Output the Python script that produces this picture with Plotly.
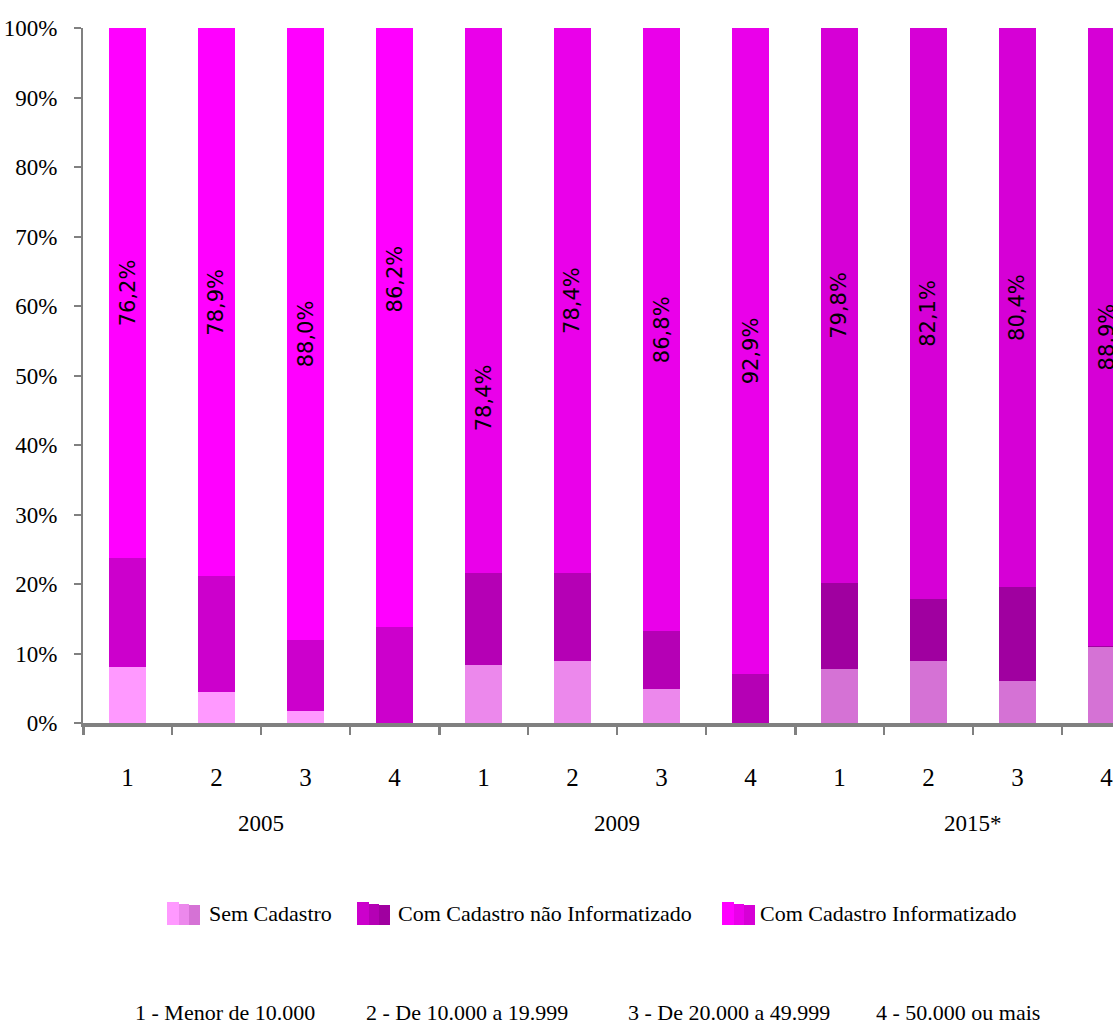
import plotly.graph_objects as go

# ---------------- data ----------------
years = ["2005", "2009", "2015*"]
size_labels = ["1", "2", "3", "4"]
series_names = ["Sem Cadastro", "Com Cadastro não Informatizado", "Com Cadastro Informatizado"]

sem_cadastro = [8.0, 4.5, 1.7, 0.0, 8.3, 8.9, 4.9, 0.0, 7.8, 8.9, 6.0, 11.0]
nao_informatizado = [15.8, 16.6, 10.3, 13.8, 13.3, 12.7, 8.3, 7.1, 12.4, 9.0, 13.6, 0.1]
informatizado = [76.2, 78.9, 88.0, 86.2, 78.4, 78.4, 86.8, 92.9, 79.8, 82.1, 80.4, 88.9]

y_ticks = list(range(0, 101, 10))
y_tick_text = [f"{v}%" for v in y_ticks]

footnotes = ["1 - Menor de 10.000", "2 - De 10.000 a 19.999",
             "3 - De 20.000 a 49.999", "4 - 50.000 ou mais"]

# ---------------- styles ----------------
colors_by_year = {
    "Sem Cadastro": ["#FF99FF", "#EC88EC", "#D572D5"],
    "Com Cadastro não Informatizado": ["#CC00CC", "#B500B5", "#A000A0"],
    "Com Cadastro Informatizado": ["#FF00FF", "#EA00EA", "#D600D6"],
}
label_shift = [0, 0, 0, 7, -14, 0, 0, 0, 0, 0, 0, 0]  # manual label nudges (pp)

n_groups = len(years)
n_per = len(size_labels)
xpos = list(range(n_groups * n_per))
tick_text = size_labels * n_groups

# plot area in pixels
W, H = 1113, 1031
L, R_EDGE, T, B = 83, 1113, 28, 723
step = 89.0
x_range = [-0.5, -0.5 + (R_EDGE - L) / step]


def px_x(p):
    return (p - L) / (R_EDGE - L)


def px_y(p):
    return (B - p) / (B - T)


fig = go.Figure()
values = [sem_cadastro, nao_informatizado, informatizado]
for name, vals in zip(series_names, values):
    cols = [colors_by_year[name][i // n_per] for i in xpos]
    fig.add_trace(go.Bar(
        x=xpos, y=vals, name=name, width=0.42,
        marker=dict(color=cols, line=dict(width=0)),
        showlegend=False, hoverinfo="skip",
    ))

# invisible trace for boundary-tick axis
fig.add_trace(go.Scatter(x=[x_range[0]], y=[0], xaxis="x2", mode="markers",
                         marker=dict(opacity=0), showlegend=False, hoverinfo="skip"))

annotations = []
# data labels on informatizado segments
for i in xpos:
    base = sem_cadastro[i] + nao_informatizado[i]
    v = informatizado[i]
    annotations.append(dict(
        x=i, y=base + v / 2 + label_shift[i], xref="x", yref="y",
        text=f"{v:.1f}%".replace(".", ","), showarrow=False, textangle=-90,
        font=dict(family="DejaVu Sans", size=21, color="#000000"),
        xanchor="center", yanchor="middle",
    ))

# group labels
for g, yr in enumerate(years):
    annotations.append(dict(
        x=g * n_per + (n_per - 1) / 2, y=0, xref="x", yref="paper",
        yshift=-(823 - B), text=yr, showarrow=False,
        font=dict(family="Liberation Serif", size=23, color="#000000"),
        xanchor="center", yanchor="middle",
    ))

# custom legend
shapes = []
legend_icon_x = [167, 357, 722]
legend_text_x = [207, 396, 758]
strip_offsets = [(0, 12), (12, 22), (22, 33)]
strip_tops = [902, 904, 905]
for k, name in enumerate(series_names):
    for j, (a, b) in enumerate(strip_offsets):
        shapes.append(dict(
            type="rect", xref="paper", yref="paper",
            x0=px_x(legend_icon_x[k] + a), x1=px_x(legend_icon_x[k] + b),
            y0=px_y(925), y1=px_y(strip_tops[j]),
            fillcolor=colors_by_year[name][j], line=dict(width=0),
        ))
    annotations.append(dict(
        x=px_x(legend_text_x[k]), y=px_y(913), xref="paper", yref="paper",
        text=name, showarrow=False, xanchor="left", yanchor="middle",
        font=dict(family="Liberation Serif", size=22, color="#000000"),
    ))

# footnotes
foot_x = [225, 467, 729, 958]
for fx, txt in zip(foot_x, footnotes):
    annotations.append(dict(
        x=px_x(fx), y=px_y(1012), xref="paper", yref="paper",
        text=txt, showarrow=False, xanchor="center", yanchor="middle",
        font=dict(family="Liberation Serif", size=22, color="#000000"),
    ))

boundaries = [i - 0.5 for i in range(n_groups * n_per + 1)]
group_bounds = [g * n_per - 0.5 for g in range(n_groups + 1)]

fig.update_layout(
    width=W, height=H,
    margin=dict(l=L, r=W - R_EDGE, t=T, b=H - B),
    paper_bgcolor="white", plot_bgcolor="white",
    barmode="stack", bargap=0.58,
    showlegend=False,
    annotations=annotations, shapes=shapes,
    xaxis=dict(
        range=x_range, tickmode="array", tickvals=xpos, ticktext=tick_text,
        ticks="", showgrid=False, zeroline=False,
        showline=True, linecolor="#808080", linewidth=4,
        ticklabelstandoff=29, ticklabeloverflow="allow",
        tickfont=dict(family="Liberation Serif", size=25, color="#000000"),
    ),
    xaxis2=dict(
        range=x_range, overlaying="x", anchor="y", side="bottom",
        tickmode="array", tickvals=group_bounds, ticks="outside",
        ticklen=11, tickwidth=3, tickcolor="#808080",
        minor=dict(tickmode="array", tickvals=boundaries, ticks="outside",
                   ticklen=11, tickwidth=2, tickcolor="#808080"),
        showticklabels=False, showgrid=False, zeroline=False, showline=False,
    ),
    yaxis=dict(
        range=[0, 100], tickmode="array", tickvals=y_ticks, ticktext=y_tick_text,
        ticks="outside", ticklen=7, tickwidth=2,
        tickcolor="#808080", showgrid=False, zeroline=False,
        showline=True, linecolor="#808080", linewidth=2,
        ticklabelstandoff=12,
        tickfont=dict(family="Liberation Serif", size=23, color="#000000"),
    ),
)

fig.write_html("out.html")
